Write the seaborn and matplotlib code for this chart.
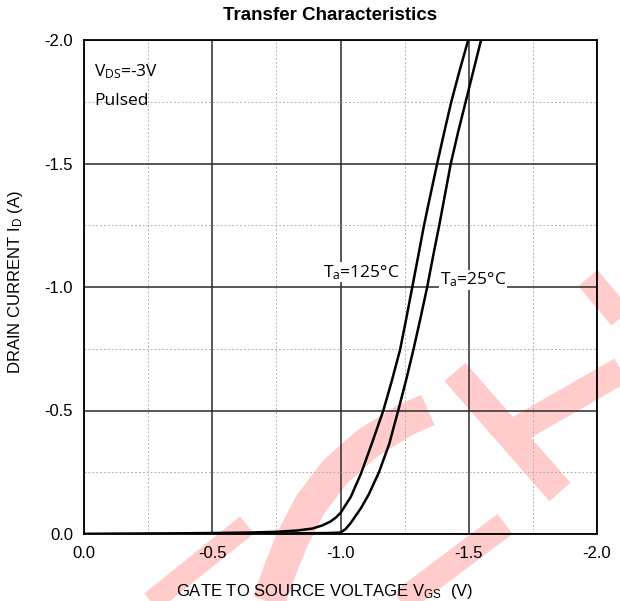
import matplotlib
matplotlib.use('Agg')
import matplotlib.pyplot as plt
from matplotlib.lines import Line2D
import seaborn as sns

# transfer curves
vgs_125 = [0.0, -0.3, -0.5, -0.65, -0.75, -0.83, -0.89, -0.93, -0.96, -0.98, -1.0,
           -1.04, -1.08, -1.12, -1.167, -1.2, -1.232, -1.256, -1.279, -1.302, -1.325,
           -1.351, -1.377, -1.404, -1.432, -1.464, -1.498]
id_125 = [0.0, -0.002, -0.004, -0.006, -0.009, -0.014, -0.022, -0.035, -0.05, -0.065, -0.085,
          -0.15, -0.245, -0.36, -0.5, -0.62, -0.745, -0.87, -0.995, -1.12, -1.247,
          -1.375, -1.5, -1.625, -1.75, -1.875, -2.0]

vgs_25 = [0.0, -0.5, -0.75, -0.88, -0.95, -0.98, -1.0, -1.02, -1.04, -1.06, -1.08,
          -1.11, -1.15, -1.19, -1.225, -1.255, -1.284, -1.311, -1.338, -1.361, -1.385,
          -1.43, -1.458, -1.488, -1.518, -1.548]
id_25 = [0.0, -0.001, -0.002, -0.003, -0.004, -0.005, -0.006, -0.02, -0.045, -0.075, -0.105,
         -0.16, -0.25, -0.365, -0.5, -0.62, -0.745, -0.87, -1.0, -1.125, -1.25,
         -1.5, -1.625, -1.75, -1.875, -2.0]

x_ticks = [0.0, -0.5, -1.0, -1.5, -2.0]
y_ticks = [0.0, -0.5, -1.0, -1.5, -2.0]
tick_labels = ['0.0', '-0.5', '-1.0', '-1.5', '-2.0']
minor_ticks = [-0.25, -0.75, -1.25, -1.75]

sns.set_style('white')
plt.rcParams['font.family'] = ['Liberation Sans', 'DejaVu Sans']
plt.rcParams['mathtext.default'] = 'regular'
plt.rcParams['text.color'] = 'black'
plt.rcParams['axes.labelcolor'] = 'black'
plt.rcParams['xtick.color'] = 'black'
plt.rcParams['ytick.color'] = 'black'

W, H = 620, 601
fig = plt.figure(figsize=(W / 100, H / 100), dpi=100)
fig.patch.set_facecolor('white')
ax = fig.add_axes([84 / W, (H - 534) / H, 513 / W, 494 / H])
ax.set_facecolor('none')

# watermark strokes behind the axes (pixel coords, origin top-left)
strokes = [
    ([135, 247], [615, 525], 22),
    ([266, 280, 292, 310, 335, 368, 405, 428], [610, 570, 540, 505, 472, 443, 420, 410], 33),
    ([388, 505], [612, 524], 25),
    ([455, 560], [372, 492], 28),
    ([512, 625], [433, 368], 27),
    ([588, 628], [278, 326], 25),
]
for xs, ys, w in strokes:
    fig.add_artist(Line2D([x / W for x in xs], [1 - y / H for y in ys],
                          transform=fig.transFigure, color='#ffcbcb', lw=w * 0.72,
                          solid_capstyle='butt', solid_joinstyle='round', zorder=-5))

sns.lineplot(x=vgs_125, y=id_125, ax=ax, color='black', lw=1.8, sort=False, estimator=None)
sns.lineplot(x=vgs_25, y=id_25, ax=ax, color='black', lw=1.8, sort=False, estimator=None)

ax.set_xlim(0, -2)
ax.set_ylim(0, -2)
ax.set_xticks(x_ticks)
ax.set_xticklabels(tick_labels)
ax.set_yticks(y_ticks)
ax.set_yticklabels(tick_labels)
ax.set_xticks(minor_ticks, minor=True)
ax.set_yticks(minor_ticks, minor=True)
ax.tick_params(which='both', length=0)
ax.tick_params(axis='x', pad=9, labelsize=12)
ax.tick_params(axis='y', pad=8, labelsize=12)
ax.grid(which='major', color='#2a2a2a', lw=1.1, zorder=1)
ax.grid(which='minor', color='#b0b0b0', lw=0.7, linestyle=(0, (2, 2)), zorder=1)
ax.set_axisbelow(True)
for sp in ax.spines.values():
    sp.set_visible(True)
    sp.set_color('black')
    sp.set_linewidth(1.3)

ax.set_xlabel('GATE TO SOURCE VOLTAGE V$_{GS}$  (V)', fontsize=12)
ax.xaxis.set_label_coords((325 - 84) / 513, (534 - 582) / 494)
ax.set_ylabel('DRAIN CURRENT I$_{D}$ (A)', fontsize=12)
ax.yaxis.set_label_coords((25 - 84) / 513, (534 - 282) / 494)

fig.text(330 / W, 1 - 15 / H, 'Transfer Characteristics', ha='center', va='center',
         fontsize=13.5, fontweight='bold')

note = dict(family=['Open Sans', 'DejaVu Sans'], fontsize=12.5)
ax.text(0.02, (534 - 72) / 494, 'V$_{DS}$=-3V', transform=ax.transAxes,
        ha='left', va='center', **note)
ax.text(0.02, (534 - 101) / 494, 'Pulsed', transform=ax.transAxes,
        ha='left', va='center', **note)
box = dict(facecolor='white', edgecolor='none', pad=0.5)
ax.text(-0.932, -1.06, 'T$_{a}$=125°C', ha='left', va='center', bbox=box, zorder=3, **note)
ax.text(-1.388, -1.03, 'T$_{a}$=25°C', ha='left', va='center', bbox=box, zorder=3, **note)

fig.savefig('out.png', dpi=100)
